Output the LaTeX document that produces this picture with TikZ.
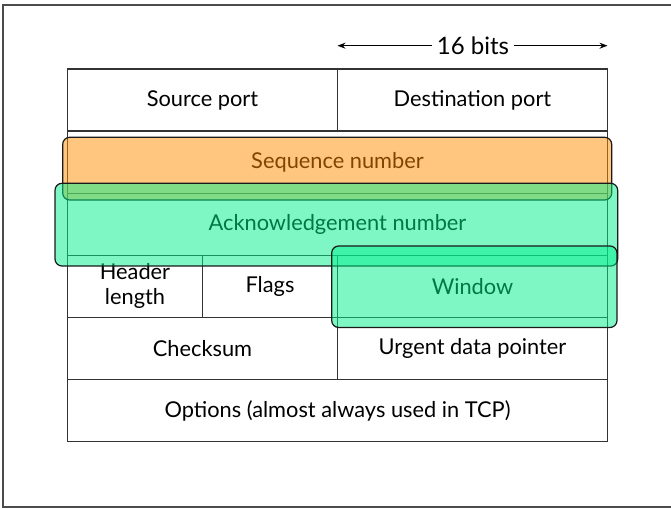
\documentclass[tikz,border=0pt]{standalone}
\usepackage{fontspec}
\setmainfont{Lato}
\usetikzlibrary{calc, positioning, arrows.meta}
\definecolor{seqorange}{RGB}{255,141,0}
\definecolor{ackgreen}{RGB}{0,240,140}

\begin{document}
\begin{tikzpicture}[x=1pt,y=-1pt]
\tikzstyle{cell} = [draw=black!80, line width=1.3pt, minimum height=62.1pt, inner sep=0pt, outer sep=0pt, font=\fontsize{21.8}{25}\selectfont, align=center]
\tikzstyle{quarter} = [cell, minimum width=135pt]
\tikzstyle{half} = [cell, minimum width=270pt]
\tikzstyle{full} = [cell, minimum width=540pt]
\tikzstyle{hilite} = [draw=black!90, line width=1.2pt, rounded corners=7pt, fill opacity=0.5]
\tikzstyle{bitarrow} = [-{Stealth[length=8pt,width=6pt]}, line width=1.1pt]

\useasboundingbox (0,0) rectangle (671,508);
\draw[black!70, line width=1.5pt] (3,5) rectangle (680,507);

% header rows
\node[half] (src) at (202.5,100.05) {Source port};
\node[half, right=0pt of src] (dst) {Destination port};
\node[full, anchor=north west] (seq) at (src.south west) {Sequence number};
\node[full, anchor=north west] (ack) at (seq.south west) {Acknowledgement number};
\node[quarter, anchor=north west] (hlen) at (ack.south west) {Header\\length};
\node[quarter, right=0pt of hlen] (flags) {Flags};
\node[half, right=0pt of flags] (win) {Window};
\node[half, anchor=north west] (chk) at (hlen.south west) {Checksum};
\node[half, right=0pt of chk] (urg) {Urgent data pointer};
\node[full, anchor=north west] (opt) at (chk.south west) {Options (almost always used in TCP)};

% width label
\node[font=\fontsize{24}{29}\selectfont, inner sep=5pt] (bits) at (473,45.7) {16 bits};
\draw[bitarrow] (bits.west) -- (bits.west -| dst.west);
\draw[bitarrow] (bits.east) -- (bits.east -| dst.east);

% highlighted fields
\draw[hilite, fill=seqorange] ([shift={(-4.8,6.2)}]seq.north west) rectangle ([shift={(4.2,6.8)}]seq.south east);
\draw[hilite, fill=ackgreen] ([shift={(-12.5,-9.9)}]ack.north west) rectangle ([shift={(10.2,10.7)}]ack.south east);
\draw[hilite, fill=ackgreen] ([shift={(-5.8,-9.3)}]win.north west) rectangle ([shift={(9.5,10.1)}]win.south east);
\end{tikzpicture}
\end{document}
